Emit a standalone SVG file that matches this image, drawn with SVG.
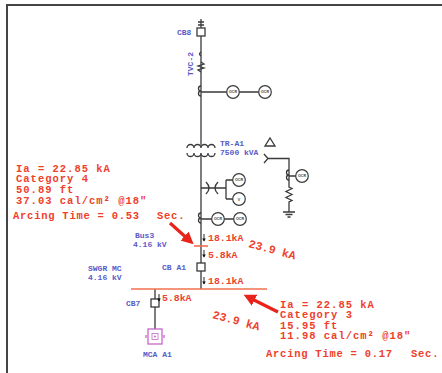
<svg xmlns="http://www.w3.org/2000/svg" width="442" height="373" viewBox="0 0 442 373">
<defs>
<style>
.w{fill:none;stroke:#3a3a3a;stroke-width:1.3}
.bx{fill:#fff;stroke:#3a3a3a;stroke-width:1.3}
.bus{fill:none;stroke:#f0704e;stroke-width:1.6}
.r{font-family:"Liberation Mono",monospace;font-weight:bold;fill:#ee3f2c}
.blk{font-size:10.5px;letter-spacing:1px}
.arc{font-size:10.5px;letter-spacing:0.75px}
.b{font-family:"Liberation Mono",monospace;font-weight:bold;fill:#5a5ac8;font-size:8px}
.o{font-family:"Liberation Sans",sans-serif;font-size:3.6px;fill:#3a3a3a;text-anchor:middle;font-weight:bold}
.ra{fill:none;stroke:#e8231c;stroke-width:3.2}
</style>
<marker id="ah" viewBox="0 0 10 10" refX="6" refY="5" markerWidth="3.8" markerHeight="3.8" orient="auto">
<path d="M0,0 L10,5 L0,10 Z" fill="#e8231c"/>
</marker>
<g id="ocr"><circle r="6.3" fill="#fff" stroke="#3a3a3a" stroke-width="1.2"/><text class="o" y="1.3">OCR</text></g>
<g id="kam"><path d="M0,-4 V3" stroke="#111" stroke-width="0.9"/><path d="M-1.8,0.5 L0,3.5 L1.8,0.5 Z" fill="#111"/></g>
</defs>

<rect width="442" height="373" fill="#fff"/>
<path d="M7,373 V5 H442" fill="none" stroke="#454545" stroke-width="2"/>

<g id="connectors">
<path class="w" d="M201,19 V28 M201,36 V145 M201,155 V289"/>
<path class="w" d="M198,22 L204,22 M198,25 L204,25"/>
<path class="w" d="M201,52 q-3,2 0,4 M201,62 l3,2 l-6,2 l6,2 l-6,2 l3,2"/>
<path class="w" d="M201,86 a2.5,2.5 0 0 0 0,5 a2.5,2.5 0 0 0 0,5"/>
<path class="w" d="M201,92 H227 M239,92 H259"/>
<path class="w" d="M201,188 H226 M226,180 V199 M226,180 H233 M226,199 H233"/>
<path class="w" d="M206,182 Q212,188 206,194 M218,182 Q212,188 218,194"/>
<path class="w" d="M201,213 a2.5,2.5 0 0 0 0,5 a2.5,2.5 0 0 0 0,5"/>
<path class="w" d="M201,219 H212 M224,219 H234"/>
<path class="w" d="M264,154 L268,158.5 L264,163 M268,158.5 H289 V187 l3,1.5 l-6,3 l6,3 l-6,3 l6,3 l-3,1.5 V212"/>
<path class="w" d="M289,170 a2.5,2.5 0 0 0 0,5 a2.5,2.5 0 0 0 0,5 M289,176 H296"/>
<path class="w" d="M283,212 H295 M285.5,214.5 H292.5 M287.5,217 H290.5"/>
<path class="w" d="M265,146 L275,146 L270,138 Z"/>
<path class="w" d="M187,148 a3.5,3.5 0 0 1 7,0 a3.5,3.5 0 0 1 7,0 a3.5,3.5 0 0 1 7,0 a3.5,3.5 0 0 1 7,0"/>
<path class="w" d="M187,153 a3.5,3.5 0 0 0 7,0 a3.5,3.5 0 0 0 7,0 a3.5,3.5 0 0 0 7,0 a3.5,3.5 0 0 0 7,0"/>
<path class="w" d="M155,289 V299 M155,307 V329"/>
<path class="bus" d="M194,246 H208"/>
<path class="bus" d="M131,289 H267"/>
<path class="ra" d="M170,223 L190,241" marker-end="url(#ah)"/>
<path class="ra" d="M278,312 L248,297" marker-end="url(#ah)"/>
</g>

<g id="CB8"><rect class="bx" x="197" y="28" width="8" height="8"/><text class="b" x="177" y="35" font-size="7.5">CB8</text></g>
<g id="cable"><text class="b" transform="translate(193,76) rotate(-90)" font-size="7">TVC-2</text></g>
<g id="ocr1"><use href="#ocr" x="233" y="92"/><use href="#ocr" x="265" y="92"/></g>
<g id="TR-A1"><text class="b" x="220" y="146">TR-A1</text><text class="b" x="220" y="155">7500 kVA</text></g>
<g id="meters"><use href="#ocr" x="239" y="180"/><circle cx="239" cy="199" r="6.3" fill="#fff" stroke="#3a3a3a" stroke-width="1.2"/><text class="o" x="239" y="201" font-size="5">V</text></g>
<g id="ocr2"><use href="#ocr" x="218" y="219"/><use href="#ocr" x="240" y="219"/></g>
<g id="ocr3"><use href="#ocr" x="302" y="176"/></g>

<g id="Bus3"><text class="b" x="135" y="238">Bus3</text><text class="b" x="133" y="247">4.16 kV</text></g>
<g id="CBA1"><rect class="bx" x="197" y="263" width="8" height="8"/><text class="b" x="162" y="270">CB A1</text></g>
<g id="SWGR"><text class="b" x="88" y="271">SWGR MC</text><text class="b" x="88" y="280">4.16 kV</text></g>
<g id="CB7"><rect class="bx" x="151" y="299" width="8" height="8"/><text class="b" x="126" y="306">CB7</text></g>
<g id="MCA">
<rect x="148" y="329" width="14" height="15" fill="#fff" stroke="#c668c8" stroke-width="1.3"/>
<path d="M146,335 V338 M164,335 V338" stroke="#c668c8" stroke-width="1.3"/>
<rect x="152" y="333.5" width="6" height="6" fill="none" stroke="#c668c8" stroke-width="0.8"/>
<circle cx="155" cy="336.5" r="1" fill="#c668c8"/>
<text class="b" x="143" y="357" fill="#5050a8">MCA A1</text>
</g>

<g id="currents">
<use href="#kam" x="204" y="238"/><text class="r" x="208" y="241" font-size="9.8">18.1kA</text>
<use href="#kam" x="204" y="254"/><text class="r" x="208" y="258" font-size="9.8">5.8kA</text>
<use href="#kam" x="204" y="281"/><text class="r" x="208" y="284" font-size="9.8">18.1kA</text>
<use href="#kam" x="159" y="298"/><text class="r" x="162" y="301" font-size="9.8">5.8kA</text>
<text class="r" font-size="11.5" transform="translate(248,247) rotate(15)">23.9 kA</text>
<text class="r" font-size="11.5" transform="translate(212,318) rotate(15)">23.9 kA</text>
</g>

<g id="label-left" class="r">
<text class="blk" x="16" y="171.5">Ia = 22.85 kA</text>
<text class="blk" x="16" y="182.2">Category 4</text>
<text class="blk" x="16" y="192.9">50.89 ft</text>
<text class="blk" x="16" y="203.6">37.03 cal/cm² @18"</text>
<text class="arc" x="13" y="219">Arcing Time = 0.53</text>
<text class="arc" x="157" y="219">Sec.</text>
</g>
<g id="label-right" class="r">
<text class="blk" x="280" y="307.5">Ia = 22.85 kA</text>
<text class="blk" x="280" y="318">Category 3</text>
<text class="blk" x="280" y="328.5">15.95 ft</text>
<text class="blk" x="280" y="339">11.98 cal/cm² @18"</text>
<text class="arc" x="266" y="357">Arcing Time = 0.17</text>
<text class="arc" x="411" y="357">Sec.</text>
</g>
</svg>
